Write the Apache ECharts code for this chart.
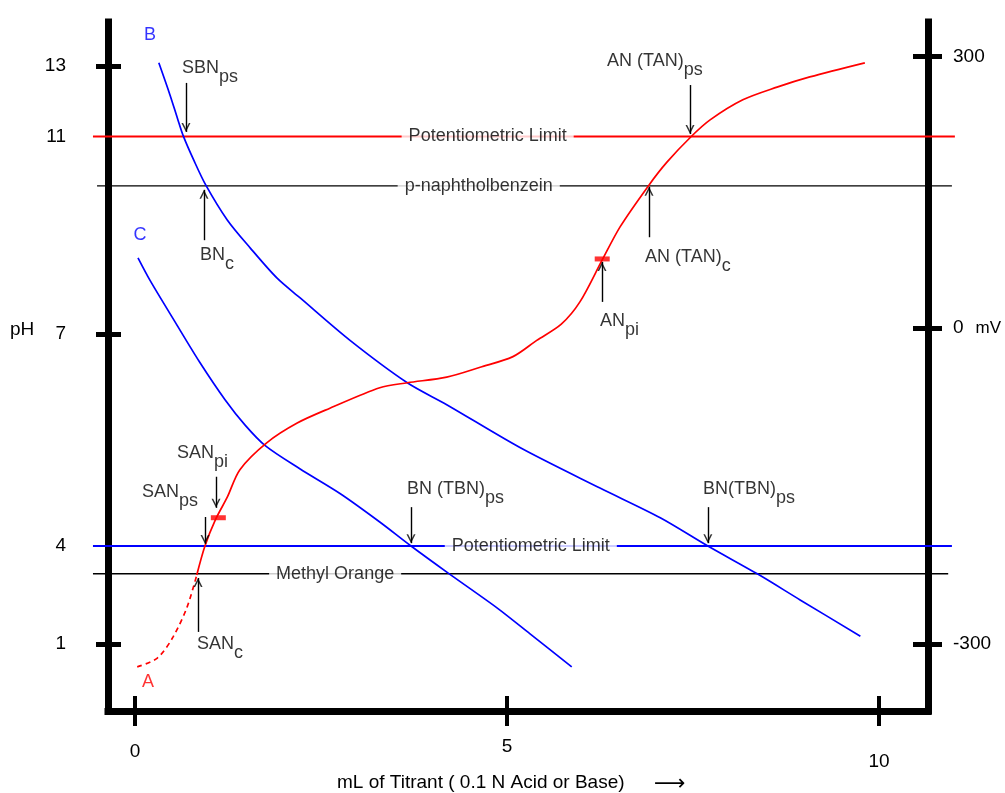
<!DOCTYPE html>
<html><head><meta charset="utf-8">
<script src="https://cdn.jsdelivr.net/npm/echarts@6/dist/echarts.min.js"></script>
<style>html,body{margin:0;padding:0;background:#fff}#c{width:1005px;height:793px}</style>
</head><body><div id="c"></div>
<script>
// ---------- data ----------
const ML_TICKS = [0, 5, 10];
const PH_TICKS = [1, 4, 7, 11, 13];
const PH_MAJOR_TICKS = [13, 7, 1];
const MV_TICKS = [-300, 0, 300];

// curve A (red): dashed start, then solid
const curveA_dashed = [[0.03,0.30],[0.30,0.57],[0.51,1.21],[0.70,2.13],[0.83,3.11]];
const curveA = [[0.83,3.11],[0.94,4.00],[1.08,4.37],[1.24,4.69],[1.41,5.08],[1.77,5.46],[2.18,5.74],[2.62,5.95],[3.29,6.24],[3.66,6.31],[4.19,6.39],[4.64,6.53],[5.08,6.68],[5.40,6.91],[5.73,7.20],[5.98,7.65],[6.28,8.50],[6.52,9.17],[6.91,10.02],[7.15,10.48],[7.47,10.99],[7.73,11.47],[8.17,12.04],[8.63,12.40],[9.07,12.69],[9.81,13.09]];
// curve B (blue)
const curveB = [[0.32,13.09],[0.47,12.18],[0.57,11.52],[0.65,11.01],[0.79,10.52],[0.95,10.02],[1.24,9.31],[1.55,8.74],[1.91,8.13],[2.22,7.73],[2.89,6.91],[3.66,6.31],[4.19,6.00],[5.18,5.39],[6.25,4.82],[7.06,4.40],[7.70,4.00],[8.37,3.14],[8.94,2.35],[9.75,1.24]];
// curve C (blue)
const curveC = [[0.04,8.54],[0.20,8.09],[0.54,7.24],[0.87,6.60],[1.21,6.07],[1.48,5.71],[1.75,5.42],[2.22,5.09],[2.76,4.74],[3.29,4.34],[3.71,4.00],[4.21,3.17],[4.87,2.10],[5.31,1.31],[5.87,0.30]];

// reference lines
const refNames   = ['Potentiometric Limit', 'p-naphtholbenzein', 'Potentiometric Limit', 'Methyl Orange'];
const refPH      = [11, 10.0, 4, 3.15];
const refLabelML = [4.74, 4.62, 5.32, 2.69];
const refStartML = [-0.565, -0.51, -0.565, -0.565];
const refEndML   = [11.02, 10.98, 10.98, 10.93];

// inflection points (small red marks)
const inflectionPts = [[1.12, 4.40], [6.28, 8.52]];

// arrows: [mL, pH tail, pH tip]
const arrowsDown = [[0.685,12.52,11.13],[7.46,12.46,11.07],[1.089,4.98,4.54],[0.941,4.41,4.03],[3.71,4.55,4.04],[7.70,4.55,4.04]];
const arrowsUp   = [[0.927,8.90,9.92],[6.909,8.96,9.98],[6.277,7.65,8.46],[0.847,1.37,3.02]];

// annotations: [main, subscript, mL (left), pH (top)]
const annotations = [
  ['SBN','ps',0.632,13.20],
  ['BN','c',0.874,8.78],
  ['AN (TAN)','ps',6.344,13.40],
  ['AN (TAN)','c',6.855,8.74],
  ['AN','pi',6.25,7.45],
  ['SAN','pi',0.565,5.44],
  ['SAN','ps',0.094,4.89],
  ['SAN','c',0.833,1.28],
  ['BN (TBN)','ps',3.656,4.93],
  ['BN(TBN)','ps',7.634,4.93]
];
const curveLetters = [['A',0.175,-0.16],['B',0.20,13.88],['C',0.067,9.0]];

// ---------- axis scale (the printed pH / mV axes are not linear) ----------
const AXIS_MAX = 68.9;
const PH_POS = [6.7, 16.5, 37.7, 57.45, 64.5];
const MV_POS = [6.7, 38.3, 65.45];
function interp(v, xs, ys) {
  let i = 0;
  if (v >= xs[xs.length - 1]) i = xs.length - 2;
  else if (v > xs[0]) { while (v > xs[i + 1]) i++; }
  return ys[i] + (v - xs[i]) * (ys[i + 1] - ys[i]) / (xs[i + 1] - xs[i]);
}
const Y = ph => interp(ph, PH_TICKS, PH_POS);
const MVY = mv => interp(mv, MV_TICKS, MV_POS);
const nearestIdx = (v, arr) => { let b = 0; arr.forEach((a, i) => { if (Math.abs(a - v) < Math.abs(arr[b] - v)) b = i; }); return b; };
const conv = arr => arr.map(p => [p[0], Y(p[1])]);

const F = 'Liberation Sans, Arial, Helvetica, sans-serif';
const X_MIN = -0.363, X_MAX = 10.659;           // framed plot area
const X_MIN_W = -0.5645, X_MAX_W = 11.0215;     // wider area (same scale) for overhanging reference lines
const BLACK = '#000000', RED = '#ff0000', BLUE = '#0000ff';
const LETTER_COLORS = { A: RED, B: BLUE, C: BLUE };
const refColors = [RED, BLACK, BLUE, BLACK];
const refWidths = [2, 1.3, 2, 1.3];
const noBorder = { textBorderWidth: 0, textBorderColor: 'transparent', textShadowBlur: 0 };

const series = [];
refPH.forEach((ph, i) => {
  series.push({ type: 'line', xAxisIndex: 2, yAxisIndex: 4, clip: false, silent: true, symbol: 'none', z: 2,
    data: [[refStartML[i], Y(ph)], [refEndML[i], Y(ph)]],
    lineStyle: { color: refColors[i], width: refWidths[i] } });
});
series.push({ type: 'scatter', silent: true, z: 6, symbolSize: 1, itemStyle: { color: 'rgba(0,0,0,0)' },
  data: refPH.map((ph, i) => ({ value: [refLabelML[i], Y(ph)], name: refNames[i] })),
  label: Object.assign({ show: true, position: 'inside', align: 'center', verticalAlign: 'middle', formatter: p => p.name,
    color: BLACK, fontSize: 18, fontFamily: F, backgroundColor: '#ffffff', padding: [2, 7] }, noBorder) });

const curveStyle = (c) => ({ type: 'line', silent: true, symbol: 'none', smooth: 0.3, z: 4,
  lineStyle: { color: c, width: 1.7 } });
series.push(Object.assign(curveStyle(BLUE), { data: conv(curveB) }));
series.push(Object.assign(curveStyle(BLUE), { data: conv(curveC) }));
series.push(Object.assign(curveStyle(RED), { data: conv(curveA) }));
series.push(Object.assign(curveStyle(RED), { data: conv(curveA_dashed), lineStyle: { color: RED, width: 1.7, type: [5, 4] } }));

series.push({ type: 'scatter', silent: true, z: 5, symbol: 'rect', symbolSize: [15, 5],
  itemStyle: { color: RED }, data: conv(inflectionPts) });

// arrow shafts
series.push({ type: 'line', silent: true, data: [], z: 5,
  markLine: { silent: true, symbol: ['none', 'none'], label: { show: false }, animation: false,
    lineStyle: { color: BLACK, width: 1.4, type: 'solid' },
    data: arrowsDown.concat(arrowsUp).map(a => [{ coord: [a[0], Y(a[1])] }, { coord: [a[0], Y(a[2])] }]) } });
// arrow heads
series.push({ type: 'scatter', silent: true, z: 6, symbol: 'path://M0,0 L5,10 L10,0 L8.2,0 L5,6.4 L1.8,0 Z',
  symbolSize: [9, 9], symbolOffset: [0, -4.5], itemStyle: { color: BLACK },
  data: arrowsDown.map(a => [a[0], Y(a[2])]) });
series.push({ type: 'scatter', silent: true, z: 6, symbol: 'path://M0,10 L5,0 L10,10 L8.2,10 L5,3.6 L1.8,10 Z',
  symbolSize: [9, 9], symbolOffset: [0, 4.5], itemStyle: { color: BLACK },
  data: arrowsUp.map(a => [a[0], Y(a[2])]) });

// annotation labels with subscripts
series.push({ type: 'scatter', silent: true, z: 7, symbolSize: 1, itemStyle: { color: 'rgba(0,0,0,0)' },
  data: annotations.map(a => ({ value: [a[2], Y(a[3])], main: a[0], sub: a[1] })),
  label: Object.assign({ show: true, position: 'inside', align: 'left', verticalAlign: 'top', color: BLACK,
    formatter: p => `{m|${p.data.main}}{s|${p.data.sub}}`,
    rich: { m: Object.assign({ fontSize: 18, fontFamily: F, color: BLACK, lineHeight: 18, verticalAlign: 'top' }, noBorder),
            s: Object.assign({ fontSize: 18, fontFamily: F, color: BLACK, lineHeight: 27, verticalAlign: 'bottom' }, noBorder) } }, noBorder) });

// curve letters
series.push({ type: 'scatter', silent: true, z: 7, symbolSize: 1, itemStyle: { color: 'rgba(0,0,0,0)' },
  data: curveLetters.map(l => ({ value: [l[1], Y(l[2])], name: l[0],
    label: { color: LETTER_COLORS[l[0]] } })),
  label: Object.assign({ show: true, position: 'inside', formatter: p => p.name, fontSize: 18, fontFamily: F }, noBorder) });

const axisLineStyle = { color: BLACK, width: 7, cap: 'square' };
const hiddenAxis = { show: false, axisLine: { show: false, onZero: false }, axisTick: { show: false }, axisLabel: { show: false }, splitLine: { show: false } };
const option = {
  animation: false,
  backgroundColor: '#ffffff',
  grid: [
    { left: 108, right: 77, top: 22, bottom: 82, containLabel: false, outerBoundsMode: 'none' },
    { left: 93, right: 50, top: 22, bottom: 82, containLabel: false, outerBoundsMode: 'none' }
  ],
  xAxis: [
    { type: 'value', gridIndex: 0, min: X_MIN, max: X_MAX, position: 'bottom',
      axisLine: { show: true, onZero: false, lineStyle: axisLineStyle },
      axisTick: { show: true, customValues: ML_TICKS, length: 15, inside: false, lineStyle: { color: BLACK, width: 4 } },
      axisLabel: { show: true, customValues: ML_TICKS, margin: 24, color: BLACK, fontSize: 19, fontFamily: F,
        formatter: v => { const i = nearestIdx(v, ML_TICKS); return `{t${i}|${ML_TICKS[i]}}`; },
        rich: { t0: { fontSize: 19, fontFamily: F, color: BLACK, lineHeight: 34 },
                t1: { fontSize: 19, fontFamily: F, color: BLACK, lineHeight: 24 },
                t2: { fontSize: 19, fontFamily: F, color: BLACK, lineHeight: 54 } } },
      splitLine: { show: false } },
    { type: 'value', gridIndex: 0, min: X_MIN, max: X_MAX, position: 'bottom',
      axisLine: { show: false, onZero: false },
      axisTick: { show: true, customValues: ML_TICKS, length: 15, inside: true, lineStyle: { color: BLACK, width: 4 } },
      axisLabel: { show: false }, splitLine: { show: false } },
    Object.assign({ type: 'value', gridIndex: 1, min: X_MIN_W, max: X_MAX_W }, hiddenAxis)
  ],
  yAxis: [
    { type: 'value', gridIndex: 0, min: 0, max: AXIS_MAX, position: 'left',
      axisLine: { show: true, onZero: false, lineStyle: axisLineStyle },
      axisTick: { show: true, customValues: PH_MAJOR_TICKS.map(Y), length: 12, inside: false, lineStyle: { color: BLACK, width: 5 } },
      axisLabel: { show: true, customValues: PH_TICKS.map(Y), margin: 42, color: BLACK, fontSize: 19, fontFamily: F,
        formatter: v => String(PH_TICKS[nearestIdx(v, PH_POS)]) },
      splitLine: { show: false } },
    { type: 'value', gridIndex: 0, min: 0, max: AXIS_MAX, position: 'left',
      axisLine: { show: false, onZero: false },
      axisTick: { show: true, customValues: PH_MAJOR_TICKS.map(Y), length: 13, inside: true, lineStyle: { color: BLACK, width: 5 } },
      axisLabel: { show: false }, splitLine: { show: false } },
    { type: 'value', gridIndex: 0, min: 0, max: AXIS_MAX, position: 'right',
      axisLine: { show: true, onZero: false, lineStyle: axisLineStyle },
      axisTick: { show: true, customValues: MV_TICKS.map(MVY), length: 14, inside: false, lineStyle: { color: BLACK, width: 5 } },
      axisLabel: { show: true, customValues: MV_TICKS.map(MVY), margin: 25, color: BLACK, fontSize: 19, fontFamily: F,
        formatter: v => { const m = MV_TICKS[nearestIdx(v, MV_POS)]; return m === 0 ? '{z|0}{u|mV}' : String(m); },
        rich: { z: { fontSize: 19, fontFamily: F, color: BLACK },
                u: { fontSize: 17, fontFamily: F, color: BLACK, padding: [0, 0, 0, 12] } } },
      splitLine: { show: false } },
    { type: 'value', gridIndex: 0, min: 0, max: AXIS_MAX, position: 'right',
      axisLine: { show: false, onZero: false },
      axisTick: { show: true, customValues: MV_TICKS.map(MVY), length: 15, inside: true, lineStyle: { color: BLACK, width: 5 } },
      axisLabel: { show: false }, splitLine: { show: false } },
    Object.assign({ type: 'value', gridIndex: 1, min: 0, max: AXIS_MAX }, hiddenAxis)
  ],
  graphic: [
    { type: 'text', x: 10, y: 330, silent: true,
      style: { text: 'pH', fill: BLACK, font: '19px ' + F, textAlign: 'left', textVerticalAlign: 'middle', align: 'left', verticalAlign: 'middle' } },
    { type: 'text', x: 337, y: 783, silent: true,
      style: { text: 'mL of Titrant ( 0.1 N Acid or Base)', fill: BLACK, font: '19px ' + F, textAlign: 'left', textVerticalAlign: 'middle', align: 'left', verticalAlign: 'middle' } },
    { type: 'text', x: 654, y: 784, silent: true,
      style: { text: '\u27F6', fill: BLACK, font: '22px DejaVu Sans, sans-serif', textAlign: 'left', textVerticalAlign: 'middle', align: 'left', verticalAlign: 'middle' } }
  ],
  series: series
};
const chart = echarts.init(document.getElementById('c'), null, { renderer: 'canvas' });
chart.setOption(option);
</script></body></html>
